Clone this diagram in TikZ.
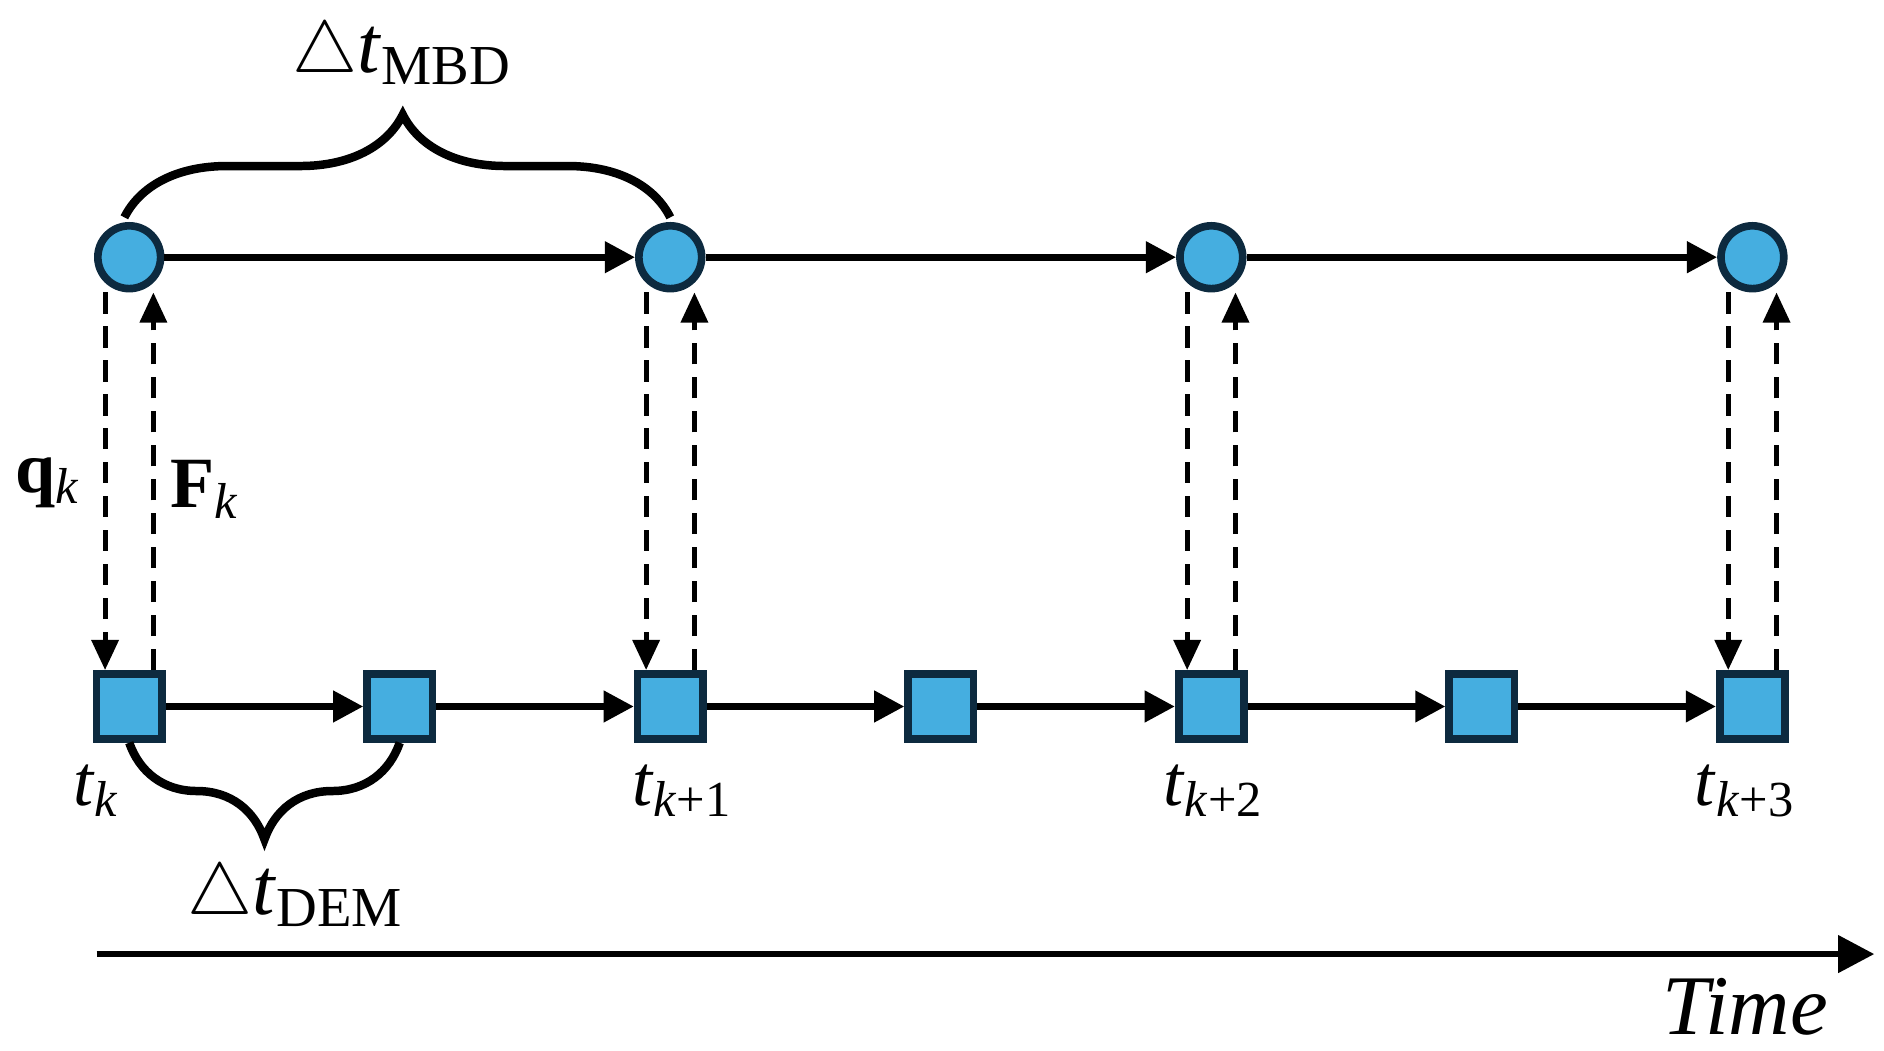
\documentclass[tikz,border=0pt]{standalone}
\usepackage{fontspec}
\setmainfont{Liberation Serif}
\usetikzlibrary{arrows.meta,decorations.pathreplacing}
\definecolor{nodeblue}{HTML}{45AEE0}
\definecolor{nodeedge}{HTML}{0D2A3F}
\newcommand{\tsub}[2]{\textit{#1}\textsubscript{#2}}
\tikzset{
  mbd/.style = {circle, draw=nodeedge, line width=1.8pt, fill=nodeblue, minimum size=0.52cm, inner sep=0pt},
  dem/.style = {rectangle, draw=nodeedge, line width=1.8pt, fill=nodeblue, minimum size=0.54cm, inner sep=0pt},
  advance/.style = {line width=1.6pt, -{Triangle[length=0.25cm,width=0.25cm]}},
  xfer/.style = {line width=1.2pt, dashed, dash pattern=on 5pt off 3pt, -{Triangle[length=0.25cm,width=0.22cm]}},
  lbl/.style = {font=\fontsize{17}{20}\selectfont, inner sep=0pt}
}
\begin{document}
\begin{tikzpicture}
  \useasboundingbox (0,0) rectangle (15.6,8.7);

  % MBD time steps
  \node (m0) [mbd] at (1.07,6.57) {};
  \node (m1) [mbd] at (5.55,6.57) {};
  \node (m2) [mbd] at (10.03,6.57) {};
  \node (m3) [mbd] at (14.51,6.57) {};
  \draw [advance] (m0) -- (m1);
  \draw [advance] (m1) -- (m2);
  \draw [advance] (m2) -- (m3);

  % DEM time steps
  \node (d0) [dem] at (1.07,2.85) {};
  \node (d1) [dem] at (3.31,2.85) {};
  \node (d2) [dem] at (5.55,2.85) {};
  \node (d3) [dem] at (7.79,2.85) {};
  \node (d4) [dem] at (10.03,2.85) {};
  \node (d5) [dem] at (12.27,2.85) {};
  \node (d6) [dem] at (14.51,2.85) {};
  \foreach \a/\b in {d0/d1,d1/d2,d2/d3,d3/d4,d4/d5,d5/d6}
    \draw [advance] (\a) -- (\b);

  % data exchange
  \foreach \i in {0,...,3}{
    \pgfmathtruncatemacro{\j}{2*\i}
    \draw [xfer] ([xshift=-0.2cm]m\i.south) -- ([xshift=-0.2cm]d\j.north);
    \draw [xfer] ([xshift=0.2cm]d\j.north) -- ([xshift=0.2cm]m\i.south);
  }
  \node (q) [lbl] at (0.40,4.70) {\textbf{q}\textsubscript{\textit{k}}};
  \node (f) [lbl] at (1.70,4.65) {\textbf{F}\textsubscript{\textit{k}}};

  % time labels
  \node (t0) [lbl] at (0.80,2.15) {\tsub{t}{\textit{k}}};
  \node (t1) [lbl] at (5.65,2.15) {\tsub{t}{\textit{k}+1}};
  \node (t2) [lbl] at (10.05,2.15) {\tsub{t}{\textit{k}+2}};
  \node (t3) [lbl] at (14.45,2.15) {\tsub{t}{\textit{k}+3}};

  % braces
  \coordinate (ba) at (1.03,6.90);
  \coordinate (bb) at (5.55,6.90);
  \draw [line width=2pt, decorate, decoration={brace, amplitude=0.85cm, aspect=0.51}] (ba) -- (bb);
  \node (mbdstep) [lbl, font=\fontsize{19}{22}\selectfont] at (3.33,8.25) {$\triangle$\tsub{t}{MBD}};
  \coordinate (bc) at (3.31,2.55);
  \coordinate (bd) at (1.07,2.55);
  \draw [line width=2pt, decorate, decoration={brace, amplitude=0.8cm, aspect=0.5}] (bc) -- (bd);
  \node (demstep) [lbl, font=\fontsize{19}{22}\selectfont] at (2.45,1.28) {$\triangle$\tsub{t}{DEM}};

  % time axis
  \coordinate (ts) at (0.80,0.80);
  \coordinate (te) at (15.52,0.80);
  \draw [line width=1.6pt, -{Triangle[length=0.3cm,width=0.3cm]}] (ts) -- (te);
  \node (time) [lbl, font=\fontsize{20}{24}\selectfont\itshape] at (14.45,0.36) {Time};
\end{tikzpicture}
\end{document}
